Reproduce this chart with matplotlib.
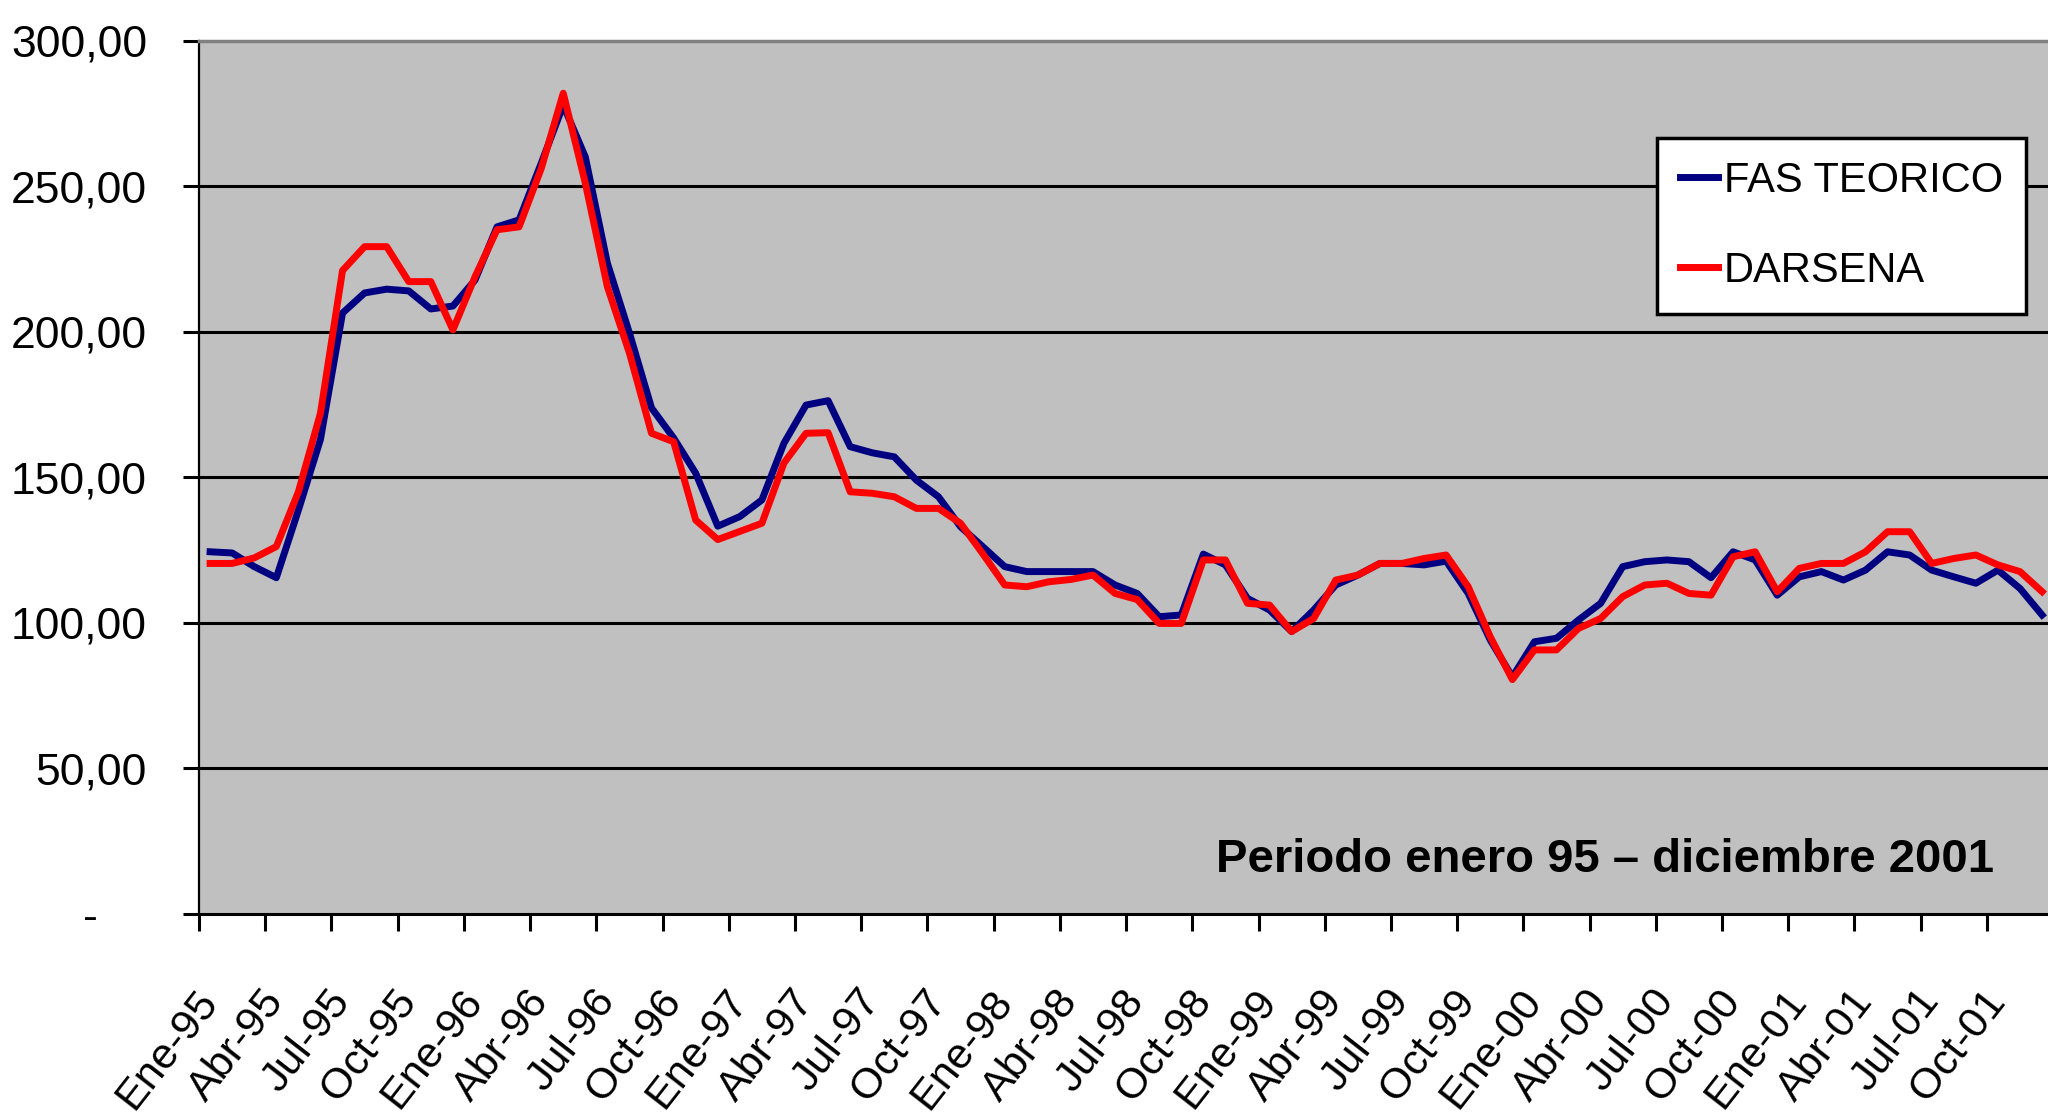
import matplotlib
matplotlib.use("Agg")
import matplotlib.pyplot as plt
import numpy as np

# monthly values, Ene-95 .. Dic-01
fas_teorico = [
    124.4, 124.0, 119.3, 115.5, 138.7, 163.0, 206.4, 213.3, 214.6, 214.0, 207.8, 208.8,
    217.7, 236.0, 238.4, 257.8, 277.8, 260.0, 223.5, 199.5, 173.8, 163.5, 151.4, 133.2,
    136.5, 142.2, 161.7, 174.8, 176.3, 160.5, 158.4, 157.0, 149.0, 143.3, 133.0, 126.2,
    119.3, 117.6, 117.6, 117.6, 117.6, 113.0, 110.1, 102.1, 102.7, 123.6, 119.9, 108.4,
    104.4, 97.0, 104.4, 113.0, 116.4, 120.4, 120.4, 119.9, 121.2, 110.1, 94.1, 81.4,
    93.5, 94.7, 101.0, 106.7, 119.3, 121.0, 121.6, 121.0, 115.5, 124.4, 121.6, 109.5,
    115.8, 117.6, 114.7, 118.1, 124.4, 123.3, 118.1, 115.8, 113.6, 118.1, 111.8, 102.7,
]
darsena = [
    120.4, 120.4, 122.3, 126.2, 145.0, 172.0, 221.0, 229.2, 229.2, 217.2, 217.2, 200.6,
    218.8, 235.0, 236.0, 256.0, 281.9, 251.0, 215.4, 192.6, 165.1, 162.2, 135.3, 128.6,
    131.4, 134.2, 154.9, 165.1, 165.3, 145.0, 144.5, 143.3, 139.3, 139.3, 134.2, 123.8,
    113.0, 112.4, 114.1, 114.9, 116.4, 110.1, 108.0, 99.8, 99.8, 121.6, 121.6, 106.7,
    106.1, 97.0, 101.5, 114.7, 116.4, 120.4, 120.4, 122.1, 123.3, 112.4, 95.2, 80.5,
    90.7, 90.7, 98.1, 101.5, 109.0, 113.0, 113.6, 110.1, 109.5, 122.7, 124.4, 110.7,
    118.7, 120.4, 120.4, 124.4, 131.3, 131.3, 120.4, 122.1, 123.3, 119.9, 117.6, 110.7,
]
x_labels = [
    "Ene-95", "Abr-95", "Jul-95", "Oct-95", "Ene-96", "Abr-96", "Jul-96", "Oct-96",
    "Ene-97", "Abr-97", "Jul-97", "Oct-97", "Ene-98", "Abr-98", "Jul-98", "Oct-98",
    "Ene-99", "Abr-99", "Jul-99", "Oct-99", "Ene-00", "Abr-00", "Jul-00", "Oct-00",
    "Ene-01", "Abr-01", "Jul-01", "Oct-01",
]
y_ticks = [0, 50, 100, 150, 200, 250, 300]
y_labels = ["-    ", "50,00", "100,00", "150,00", "200,00", "250,00", "300,00"]
series_names = ["FAS TEORICO", "DARSENA"]

plt.rcParams["font.family"] = ["Liberation Sans", "DejaVu Sans"]

fig = plt.figure(figsize=(20.48, 11.19), dpi=100)
ax = fig.add_axes([0.0972, 0.1832, 0.9053, 0.7806])
ax.set_facecolor("#C0C0C0")

x = np.arange(len(fas_teorico))
ax.plot(x, fas_teorico, color="#000080", lw=5, label=series_names[0], zorder=3)
ax.plot(x, darsena, color="#FF0000", lw=5, label=series_names[1], zorder=4)

for yv in y_ticks[1:-1]:
    ax.axhline(yv, color="black", lw=2.2, zorder=1)

ax.set_xlim(-0.5, len(x) - 0.5)
ax.set_ylim(0, 300)

ax.set_yticks(y_ticks)
ax.set_yticklabels(y_labels, fontsize=32)
ax.tick_params(axis="y", direction="out", length=11.5, width=2.2, pad=26)

# ticks between categories, labels under every third month
ax.set_xticks(np.arange(-0.5, len(x), 3))
ax.set_xticklabels([])
ax.tick_params(axis="x", which="major", direction="out", length=12, width=2.2)
ax.set_xticks(np.arange(0, len(x), 3), minor=True)
ax.set_xticklabels(x_labels, minor=True, fontsize=31, rotation=52,
                   ha="right", va="center", rotation_mode="anchor")
ax.tick_params(axis="x", which="minor", length=0, pad=58)

ax.spines["right"].set_visible(False)
ax.spines["top"].set_color("#808080")
ax.spines["top"].set_linewidth(2.5)
ax.spines["left"].set_linewidth(1.6)
ax.spines["bottom"].set_linewidth(2.2)

leg = ax.legend(loc="upper left", bbox_to_anchor=(0.7864, 0.8884), borderaxespad=0,
                fontsize=30, handlelength=0.9, handletextpad=0.15, labelspacing=1.2,
                borderpad=0.55, fancybox=False, framealpha=1, edgecolor="black")
leg.get_frame().set_linewidth(2.5)
for h in leg.get_lines():
    h.set_linewidth(5)

ax.text(0.968, 0.048, "Periodo enero 95 \u2013 diciembre 2001", transform=ax.transAxes,
        ha="right", va="baseline", fontsize=34, fontweight="bold")

fig.savefig("out.png", dpi=100)
